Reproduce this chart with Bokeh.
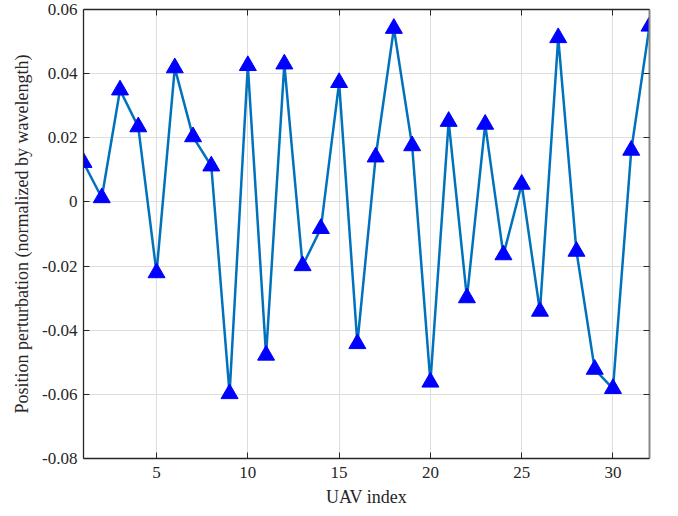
from bokeh.plotting import figure
from bokeh.models import LinearAxis, FixedTicker, Range1d, ColumnDataSource
from bokeh.embed import file_html
from bokeh.resources import INLINE

uav_index = list(range(1, 33))
perturbation = [0.0123, 0.0013, 0.0349, 0.0234, -0.0221, 0.0418, 0.0203, 0.0112,
                -0.0598, 0.0425, -0.0478, 0.0430, -0.0199, -0.0083, 0.0372, -0.0442,
                0.0140, 0.0541, 0.0175, -0.0562, 0.0251, -0.0299, 0.0242, -0.0165,
                0.0055, -0.0341, 0.0512, -0.0154, -0.0522, -0.0582, 0.0161, 0.0548]

x_ticks = [5, 10, 15, 20, 25, 30]
y_ticks = [-0.08, -0.06, -0.04, -0.02, 0.0, 0.02, 0.04, 0.06]
y_tick_labels = ["-0.08", "-0.06", "-0.04", "-0.02", "0", "0.02", "0.04", "0.06"]

src = ColumnDataSource(dict(x=uav_index, y=perturbation))

FONT = "Liberation Serif"
AX = "#262626"

p = figure(width=678, height=516, output_backend="svg", toolbar_location=None,
           x_range=Range1d(1, 32), y_range=Range1d(-0.08, 0.06),
           min_border_left=83, min_border_right=29, min_border_top=9, min_border_bottom=58)
p.frame_width = 566
p.frame_height = 449
p.outline_line_color = None
p.background_fill_color = "white"

p.line("x", "y", source=src, line_color="#0072BD", line_width=2.5)
p.scatter("x", "y", source=src, marker="triangle", size=17, fill_color="#0000FF",
          line_color="#0000FF")

xa = p.xaxis[0]
xa.ticker = FixedTicker(ticks=x_ticks)
xa.axis_label = "UAV index"
ya = p.yaxis[0]
ya.ticker = FixedTicker(ticks=y_ticks)
ya.major_label_overrides = {v: l for v, l in zip(y_ticks, y_tick_labels)}
ya.axis_label = "Position perturbation (normalized by wavelength)"

for ax in (xa, ya):
    ax.axis_line_color = AX
    ax.axis_line_width = 1.3
    ax.major_tick_line_color = AX
    ax.major_tick_in = 6
    ax.major_tick_out = 0
    ax.minor_tick_line_color = None
    ax.major_label_text_font = FONT
    ax.major_label_text_font_size = "17px"
    ax.major_label_text_color = AX
    ax.axis_label_text_font = FONT
    ax.axis_label_text_font_size = "18px"
    ax.axis_label_text_font_style = "normal"
    ax.axis_label_text_color = AX
xa.major_label_standoff = 8
xa.axis_label_standoff = 6
ya.major_label_standoff = 6
ya.axis_label_standoff = 7

top = LinearAxis(ticker=FixedTicker(ticks=x_ticks), major_label_text_font_size="0px",
                 axis_line_color=AX, axis_line_width=1.3, major_tick_line_color=AX,
                 major_tick_in=6, major_tick_out=0, minor_tick_line_color=None)
right = LinearAxis(ticker=FixedTicker(ticks=y_ticks), major_label_text_font_size="0px",
                   axis_line_color="#888888", axis_line_width=2, major_tick_line_color=AX,
                   major_tick_in=6, major_tick_out=0, minor_tick_line_color=None)
p.add_layout(top, "above")
p.add_layout(right, "right")
top.major_label_text_color = None
right.major_label_text_color = None

p.xgrid.ticker = FixedTicker(ticks=x_ticks)
p.ygrid.ticker = FixedTicker(ticks=y_ticks)
p.grid.grid_line_color = "#dedede"
p.grid.grid_line_width = 1

open("out.html", "w").write(file_html(p, INLINE))
